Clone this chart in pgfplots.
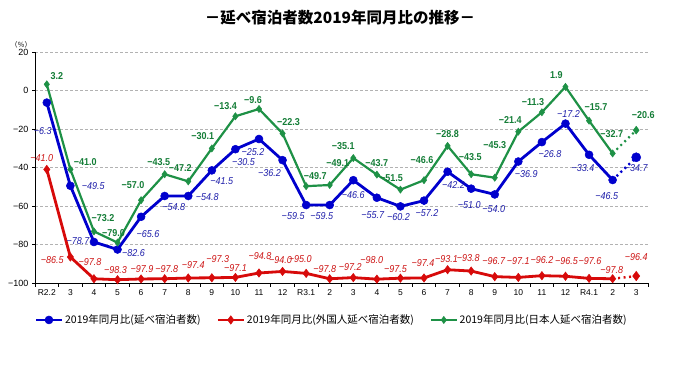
\documentclass[border=0pt]{standalone}
\usepackage{fontspec}
\setmainfont{Liberation Sans}
\newfontfamily\jp{Noto Sans CJK JP}
\newfontfamily\lblfont[FakeStretch=0.9]{Liberation Sans}
\usepackage{pgfplots}
\pgfplotsset{compat=1.18}
\usepackage{pgfplotstable}

\definecolor{cblue}{RGB}{0,0,205}
\definecolor{cred}{RGB}{215,10,10}
\definecolor{cgreen}{RGB}{30,145,70}
\definecolor{lblue}{RGB}{30,30,170}
\definecolor{lred}{RGB}{205,20,20}
\definecolor{lgreen}{RGB}{20,125,55}

\pgfplotstableread{
x y lbl dx dy
0 -6.3 −6.3 -4 -28
1 -49.5 −49.5 23 0
2 -78.7 −78.7 -16 1
3 -82.6 −82.6 16 -4
4 -65.6 −65.6 7 -17
5 -54.8 −54.8 9 -11
6 -54.8 −54.8 19 -1
7 -41.5 −41.5 10 -11
8 -30.5 −30.5 8 -13
9 -25.2 −25.2 -6 -13
10 -36.2 −36.2 -13 -13
11 -59.5 −59.5 -13 -11
12 -59.5 −59.5 -8 -11
13 -46.6 −46.6 0 -15
14 -55.7 −55.7 -4 -17
15 -60.2 −60.2 -2 -11
16 -57.2 −57.2 3 -12
17 -42.2 −42.2 6 -13
18 -51.0 −51.0 -2 -16
19 -54.0 −54.0 -1 -15
20 -36.9 −36.9 8 -13
21 -26.8 −26.8 8 -12
22 -17.2 −17.2 3 10
23 -33.4 −33.4 -6 -13
24 -46.5 −46.5 -6 -16
25 -34.7 −34.7 0 -11
}\tblue

\pgfplotstableread{
x y lbl dx dy
0 -41.0 −41.0 -5 11
1 -86.5 −86.5 -18 -3
2 -97.8 −97.8 -4 17
3 -98.3 −98.3 -2 10
4 -97.9 −97.9 1 10
5 -97.8 −97.8 2 10
6 -97.4 −97.4 5 13
7 -97.3 −97.3 6 19
8 -97.1 −97.1 0 9
9 -94.8 −94.8 1 17
10 -94.0 −94.0 -2 11
11 -95.0 −95.0 -6 14
12 -97.8 −97.8 -5 10
13 -97.2 −97.2 -3 11
14 -98.0 −98.0 -5 19
15 -97.5 −97.5 -5 9
16 -97.4 −97.4 -1 15
17 -93.1 −93.1 -1 11
18 -93.8 −93.8 -3 13
19 -96.7 −96.7 -1 16
20 -97.1 −97.1 0 16
21 -96.2 −96.2 0 16
22 -96.5 −96.5 1 15
23 -97.6 −97.6 1 17
24 -97.8 −97.8 -1 9
25 -96.4 −96.4 0 19
}\tred

\pgfplotstableread{
x y lbl dx dy
0 3.2 3.2 10 8
1 -41.0 −41.0 15 7
2 -73.2 −73.2 9 13
3 -79.0 −79.0 -4 10
4 -57.0 −57.0 -8 15
5 -43.5 −43.5 -6 12
6 -47.2 −47.2 -8 13
7 -30.1 −30.1 -9 12
8 -13.4 −13.4 -10 10
9 -9.6 −9.6 -6 9
10 -22.3 −22.3 6 11
11 -49.7 −49.7 9 10
12 -49.1 −49.1 8 22
13 -35.1 −35.1 -10 12
14 -43.7 −43.7 0 12
15 -51.5 −51.5 -9 12
16 -46.6 −46.6 -2 20
17 -28.8 −28.8 0 12
18 -43.5 −43.5 -1 17
19 -45.3 −45.3 0 33
20 -21.4 −21.4 -8 12
21 -11.3 −11.3 -9 10
22 1.9 1.9 -9 12
23 -15.7 −15.7 7 14
24 -32.7 −32.7 -1 19
25 -20.6 −20.6 7 15
}\tgreen

\pgfplotsset{
  lbl/.style={nodes near coords, point meta=explicit symbolic,
    visualization depends on={\thisrow{dx} \as \ldx},
    visualization depends on={\thisrow{dy} \as \ldy},
    every node near coord/.append style={anchor=center, xshift=\ldx pt, yshift=\ldy pt,
      inner sep=0pt, #1}},
}

\begin{document}
\begin{tikzpicture}
\useasboundingbox (0,0) rectangle (675pt,371pt);
\node[font=\jp\bfseries\fontsize{15.5}{18}\selectfont] at (340pt,353pt) {－延べ宿泊者数2019年同月比の推移－};
\node[font=\jp\fontsize{7}{8}\selectfont] at (21pt,326pt) {（％）};
\begin{axis}[
  at={(35pt,88pt)}, anchor=south west,
  scale only axis, width=613pt, height=231pt,
  xmin=-0.5, xmax=25.5, ymin=-100, ymax=20,
  axis lines=left, axis line style={-, black, line width=0.8pt},
  clip=false,
  ytick={-100,-80,-60,-40,-20,0,20},
  yticklabels={−100,−80,−60,−40,−20,0,20},
  yticklabel style={font=\fontsize{9}{10}\selectfont},
  xtick={0,...,25},
  xticklabels={R2.2,3,4,5,6,7,8,9,10,11,12,R3.1,2,3,4,5,6,7,8,9,10,11,12,R4.1,2,3},
  xticklabel style={font=\fontsize{8.5}{10}\selectfont},
  major x tick style={draw=none},
  minor xtick={-0.5,0.5,...,25.5},
  minor x tick style={black, line width=0.8pt},
  minor tick length=4pt,
  major tick length=3pt,
  y tick style={black, line width=0.8pt},
  tick align=outside,
  ymajorgrids, grid style={densely dashed, gray!60, line width=0.5pt},
  legend style={at={(0.484,-0.16)}, anchor=center, legend columns=3, draw=none,
    font=\jp\fontsize{10.5}{12}\selectfont,
    /tikz/every even column/.append style={column sep=14pt}},
  legend image code/.code={\draw[mark repeat=2,mark phase=2] plot coordinates {(0cm,0cm) (0.45cm,0cm) (0.9cm,0cm)};},
]
% blue
\addplot[cblue, line width=2.8pt, mark=*, mark size=4pt, mark options={line width=0.5pt},
  lbl={text=lblue, font=\lblfont\itshape\fontsize{10}{10}\selectfont},
  skip coords between index={25}{26}] table[x=x,y=y,meta=lbl] \tblue;
\addlegendentry{2019年同月比(延べ宿泊者数)}
% red
\addplot[cred, line width=2.8pt, mark=diamond*, mark size=4.2pt, mark options={line width=0.5pt},
  lbl={text=lred, font=\lblfont\itshape\fontsize{10}{10}\selectfont},
  skip coords between index={25}{26}] table[x=x,y=y,meta=lbl] \tred;
\addlegendentry{2019年同月比(外国人延べ宿泊者数)}
% green
\addplot[cgreen, line width=2.2pt, mark=diamond*, mark size=3.6pt, mark options={line width=0.5pt},
  lbl={text=lgreen, font=\lblfont\bfseries\fontsize{10}{10}\selectfont},
  skip coords between index={25}{26}] table[x=x,y=y,meta=lbl] \tgreen;
\addlegendentry{2019年同月比(日本人延べ宿泊者数)}
% dotted final segments
\addplot[cblue, line width=2.4pt, dash pattern=on 2pt off 3.5pt, no markers, forget plot,
  skip coords between index={0}{24}] table[x=x,y=y] \tblue;
\addplot[cred, line width=2.4pt, dash pattern=on 2pt off 3.5pt, no markers, forget plot,
  skip coords between index={0}{24}] table[x=x,y=y] \tred;
\addplot[cgreen, line width=2.2pt, dash pattern=on 2pt off 3.5pt, no markers, forget plot,
  skip coords between index={0}{24}] table[x=x,y=y] \tgreen;
% final markers
\addplot[cblue, only marks, mark=*, mark size=4.6pt, forget plot,
  lbl={text=lblue, font=\lblfont\itshape\fontsize{10}{10}\selectfont},
  skip coords between index={0}{25}] table[x=x,y=y,meta=lbl] \tblue;
\addplot[cred, only marks, mark=diamond*, mark size=4.8pt, forget plot,
  lbl={text=lred, font=\lblfont\itshape\fontsize{10}{10}\selectfont},
  skip coords between index={0}{25}] table[x=x,y=y,meta=lbl] \tred;
\addplot[cgreen, only marks, mark=diamond*, mark size=4pt, forget plot,
  lbl={text=lgreen, font=\lblfont\bfseries\fontsize{10}{10}\selectfont},
  skip coords between index={0}{25}] table[x=x,y=y,meta=lbl] \tgreen;
\end{axis}
\end{tikzpicture}
\end{document}
